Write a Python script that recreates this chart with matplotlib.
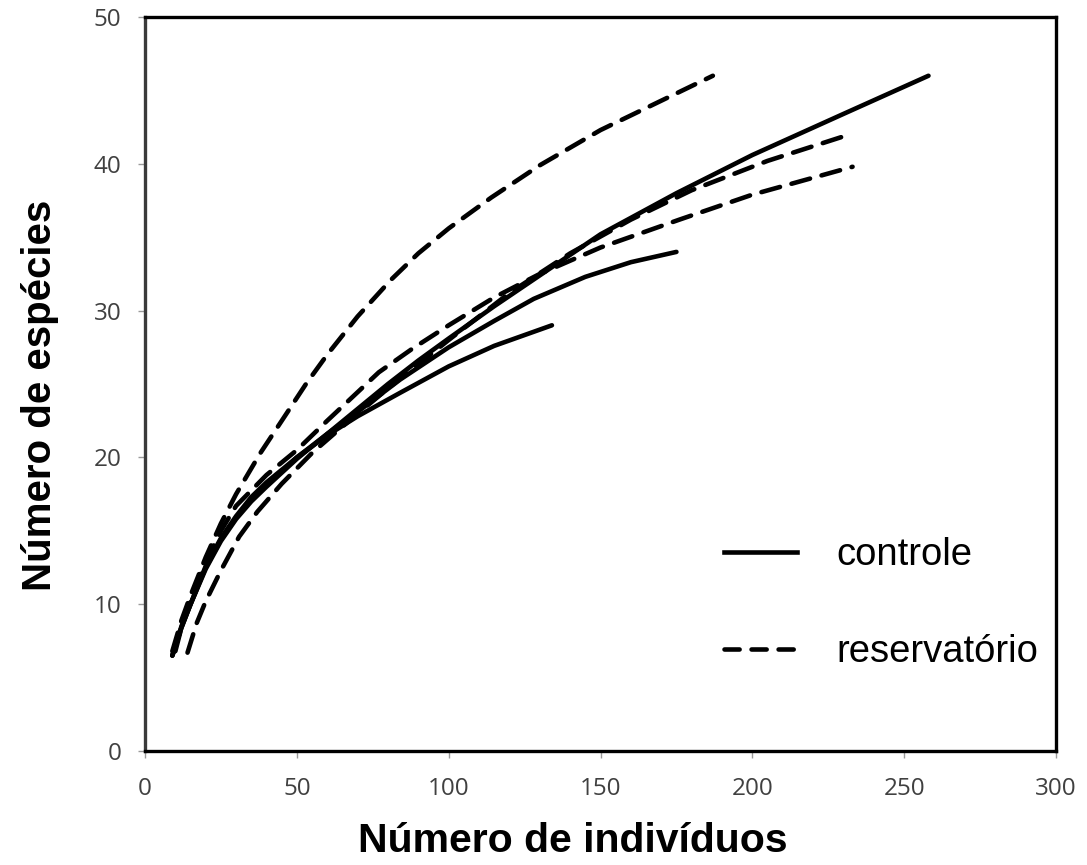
import matplotlib
matplotlib.use("Agg")
import matplotlib.pyplot as plt
from matplotlib.lines import Line2D

# Rarefaction curves - controle (solid)
c1_x = [9, 12, 15, 20, 25, 30, 35, 40, 50, 60, 70, 80, 90, 100, 115, 130, 150, 175, 200, 230, 258]
c1_y = [6.5, 8.4, 10.0, 12.4, 14.3, 15.8, 17.0, 18.0, 19.9, 21.6, 23.3, 25.0, 26.6, 28.1, 30.3, 32.4, 35.2, 38.0, 40.6, 43.4, 46.0]
c2_x = [9, 12, 15, 20, 25, 30, 35, 40, 50, 60, 70, 84, 100, 115, 128, 145, 160, 175]
c2_y = [6.5, 8.4, 10.0, 12.5, 14.4, 15.9, 17.1, 18.1, 20.0, 21.6, 23.1, 25.3, 27.5, 29.3, 30.8, 32.3, 33.3, 34.0]
c3_x = [9, 12, 15, 20, 25, 30, 35, 40, 50, 60, 70, 84, 100, 115, 134]
c3_y = [6.5, 8.5, 10.0, 12.6, 14.5, 16.0, 17.3, 18.3, 20.0, 21.5, 22.8, 24.4, 26.2, 27.6, 29.0]

# Rarefaction curves - reservatorio (dashed)
r1_x = [9, 12, 15, 20, 25, 30, 38, 46, 53, 60, 70, 81, 90, 100, 114, 130, 150, 170, 187]
r1_y = [6.8, 8.9, 10.6, 13.2, 15.5, 17.5, 20.3, 22.8, 25.0, 27.0, 29.6, 32.1, 33.9, 35.6, 37.7, 39.9, 42.3, 44.3, 46.0]
r2_x = [14, 17, 20, 25, 31, 37, 45, 55, 65, 80, 100, 120, 140, 160, 180, 205, 232]
r2_y = [6.7, 8.7, 10.2, 12.3, 14.6, 16.3, 18.2, 20.3, 22.1, 24.7, 28.0, 31.2, 33.9, 36.2, 38.2, 40.2, 42.0]
r3_x = [10, 12, 15, 20, 25, 30, 40, 50, 60, 77, 88, 100, 115, 130, 150, 176, 200, 233]
r3_y = [6.8, 8.4, 10.3, 12.9, 15.0, 16.7, 18.8, 20.5, 22.5, 25.8, 27.4, 29.0, 30.9, 32.5, 34.3, 36.2, 37.9, 39.8]

x_ticks = [0, 50, 100, 150, 200, 250, 300]
y_ticks = [0, 10, 20, 30, 40, 50]
legend_labels = ["controle", "reservatório"]

fig = plt.figure(figsize=(10.87, 8.65), dpi=100)
ax = fig.add_axes([0.1334, 0.1318, 0.9715 - 0.1334, 0.9803 - 0.1318])

lw = 3.3
dash = (4.2, 2.6)
for xs, ys in [(c1_x, c1_y), (c2_x, c2_y), (c3_x, c3_y)]:
    ax.plot(xs, ys, color="black", lw=lw, solid_capstyle="round", solid_joinstyle="round")
for xs, ys in [(r1_x, r1_y), (r2_x, r2_y), (r3_x, r3_y)]:
    ax.plot(xs, ys, color="black", lw=lw, dashes=dash, dash_capstyle="round",
            dash_joinstyle="round")

ax.set_xlim(0, 300)
ax.set_ylim(0, 50)
ax.set_xticks(x_ticks)
ax.set_yticks(y_ticks)
ax.tick_params(axis="both", direction="out", length=5, width=1, color="#9a9a9a",
               labelsize=17.5, labelcolor="#404040")
ax.tick_params(axis="x", pad=14)
ax.tick_params(axis="y", pad=12)
for lab in ax.get_xticklabels() + ax.get_yticklabels():
    lab.set_family("Open Sans")
for s in ax.spines.values():
    s.set_linewidth(2.4)
    s.set_color("black")
ax.spines["left"].set_color("#3a3a3a")

fig.text(573 / 1087, 1 - 841 / 865, "Número de indivíduos", fontsize=29.5, fontweight="bold",
         family="Liberation Sans", ha="center", va="center")
fig.text(40 / 1087, 1 - 395 / 865, "Número de espécies", fontsize=29, fontweight="bold",
         family="Liberation Sans", ha="center", va="center", rotation=90)

handles = [Line2D([], [], color="black", lw=lw),
           Line2D([], [], color="black", lw=lw, dashes=(3.3, 2.6), dash_capstyle="round")]
leg = ax.legend(handles, legend_labels, loc="upper left", bbox_to_anchor=(0.598, 0.338),
                frameon=False, handlelength=1.9, handletextpad=1.05, labelspacing=1.6,
                prop={"family": "Liberation Sans", "size": 27.5})

fig.savefig("out.png", dpi=100)
